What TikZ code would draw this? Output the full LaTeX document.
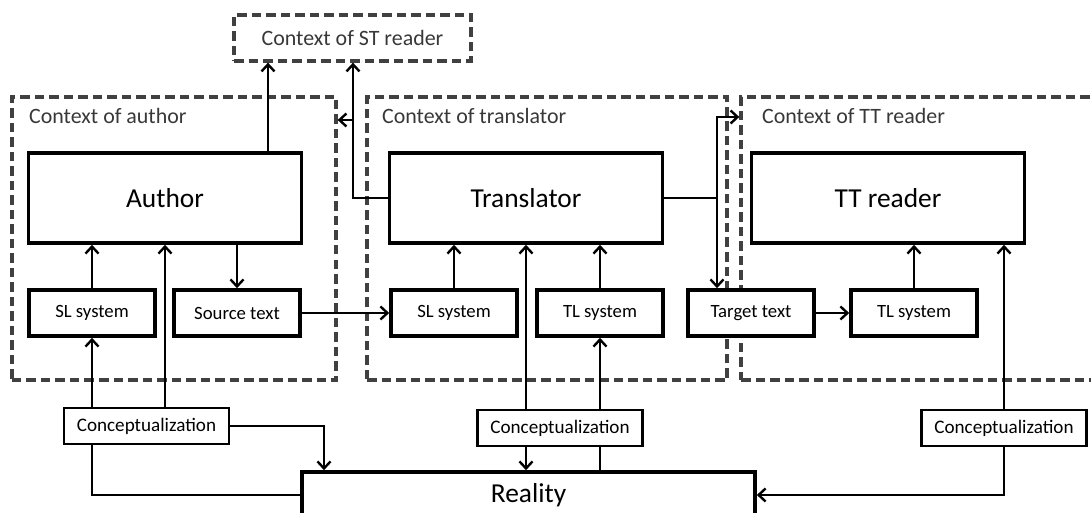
\documentclass[tikz,border=0pt]{standalone}
\usepackage{fontspec}
\setmainfont{Carlito}
\usetikzlibrary{arrows.meta,calc}
\definecolor{ctxgray}{HTML}{404040}
\definecolor{ctxtext}{HTML}{383838}
\begin{document}
\begin{tikzpicture}[x=1bp,y=-1bp,
  ctxbox/.style={draw=ctxgray,line width=3.3bp,dash pattern=on 9.5bp off 5bp,inner sep=0pt},
  ctxlabel/.style={text=ctxtext,font=\fontsize{22}{24}\selectfont,anchor=base west,inner sep=0pt},
  agent/.style={draw,fill=white,line width=3.6bp,minimum width=273bp,minimum height=90bp,inner sep=0pt,font=\fontsize{27.5}{30}\selectfont},
  textbox/.style={draw,fill=white,line width=3.6bp,minimum width=126bp,minimum height=46bp,inner sep=0pt,font=\fontsize{18.8}{21}\selectfont},
  concbox/.style={draw,fill=white,line width=2.2bp,minimum width=165bp,minimum height=36bp,inner sep=0pt,font=\fontsize{19.2}{22}\selectfont},
  arr/.style={line width=2.4bp,-{Straight Barb[length=7bp,width=13bp,line width=2.4bp]}},
  ln/.style={line width=2.4bp}]
\useasboundingbox (0,0) rectangle (1091,513);

% dashed context frames
\node[ctxbox,minimum width=237bp,minimum height=46bp] (stctx) at (352.5,38) {};
\node[ctxlabel,anchor=center] (stlab) at (352.5,38) {Context of ST reader};
\node[ctxbox,minimum width=324bp,minimum height=283bp] (actx) at (174,238.5) {};
\node[ctxbox,minimum width=360bp,minimum height=283bp] (trctx) at (547,238.5) {};
\node[ctxbox,minimum width=359bp,minimum height=283bp] (ttctx) at (920.5,238.5) {};
\node[ctxlabel] (alab) at (29,124) {Context of author};
\node[ctxlabel] (tlab) at (382,124) {Context of translator};
\node[ctxlabel] (rlab) at (762,124) {Context of TT reader};

% agents
\node[agent] (author) at (165,198) {Author};
\node[agent] (translator) at (526,198) {Translator};
\node[agent] (ttreader) at (888,198) {TT reader};

% language systems and texts
\node[textbox] (slA) at (92,313) {SL system};
\node[textbox] (src) at (237,313) {Source text};
\node[textbox] (slT) at (454,313) {SL system};
\node[textbox] (tlT) at (600,313) {TL system};
\node[textbox] (tgt) at (751,313) {Target text};
\node[textbox] (tlR) at (914,313) {TL system};

% conceptualization and reality
\node[concbox] (cA) at (146.5,426) {Conceptualization};
\node[concbox] (cT) at (560,428) {Conceptualization};
\node[concbox] (cR) at (1004,428) {Conceptualization};
\node[agent,minimum width=453bp,minimum height=46bp] (reality) at (528.5,495) {Reality};

% junction points
\coordinate (j1) at (353,120);
\coordinate (j2) at (717,117);
\coordinate (j3) at (324,424);
\coordinate (j4) at (268,153);

% author side
\draw[arr] (j4) -- (j4 |- stctx.south);
\draw[arr] (author.south -| src.north) -- (src.north);
\draw[arr] (slA.north) -- (slA.north |- author.south);
\draw[arr] (cA.north -| author.south) -- (author.south);
\draw[arr] (cA.north -| slA.south) -- (slA.south);
\draw[arr] (cA.east) -| (j3 |- reality.north);
\draw[ln] (cA.south -| slA.south) |- (reality.west);
\draw[arr] (src.east) -- (slT.west);

% translator side
\draw[arr] (translator.west) -| (j1 |- stctx.south);
\draw[arr] (j1) -- (j1 -| actx.east);
\draw[arr] (translator.east) -| (j2 |- tgt.north);
\draw[arr] (translator.east -| j2) |- (ttctx.west |- j2);
\draw[arr] (slT.north) -- (slT.north |- translator.south);
\draw[arr] (tlT.north) -- (tlT.north |- translator.south);
\draw[arr] (cT.north -| translator.south) -- (translator.south);
\draw[arr] (cT.south -| translator.south) -- (translator.south |- reality.north);
\draw[arr] (cT.north -| tlT.south) -- (tlT.south);
\draw[ln] (reality.north -| tlT.south) -- (cT.south -| tlT.south);

% TT reader side
\draw[arr] (tgt.east) -- (tlR.west);
\draw[arr] (tlR.north) -- (tlR.north |- ttreader.south);
\draw[arr] (cR.north) -- (cR.north |- ttreader.south);
\draw[arr] (cR.south) |- (reality.east);
\end{tikzpicture}
\end{document}
